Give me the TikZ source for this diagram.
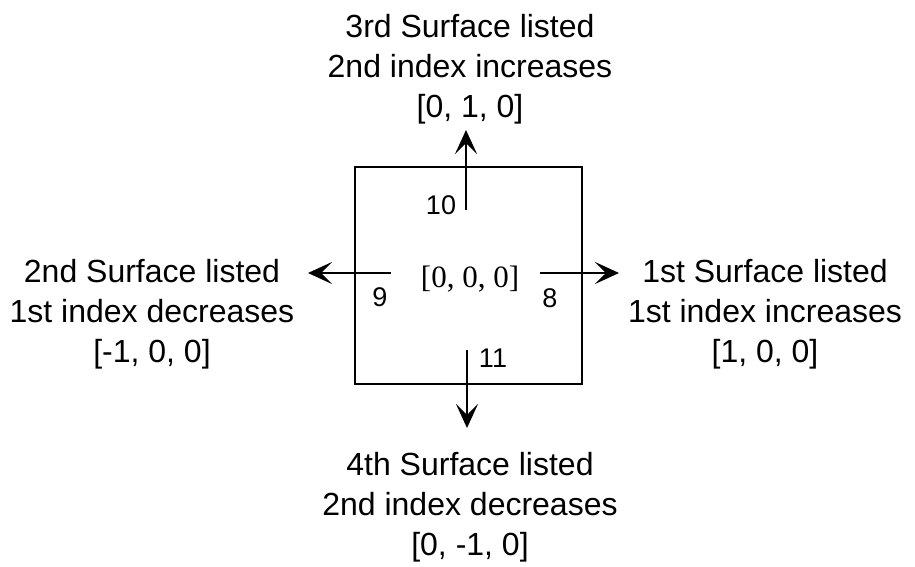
\documentclass[tikz,border=0pt]{standalone}
\usepackage{fontspec}
\setmainfont{Liberation Sans}
\newfontfamily\serifface{Liberation Serif}
\usetikzlibrary{arrows.meta,positioning,calc}
\tikzset{
  cellbox/.style={draw, line width=2.6pt, minimum width=227pt, minimum height=217pt, inner sep=0pt},
  facetext/.style={align=center, inner sep=0pt, font=\fontsize{32}{40}\selectfont},
  idx/.style={inner sep=0pt, font=\fontsize{27}{30}\selectfont},
  centretext/.style={inner sep=0pt, font=\serifface\fontsize{31}{36}\selectfont},
  arrow/.style={-{Stealth[length=24pt,width=22pt,inset=11pt]}, line width=2.6pt},
}
\begin{document}
\begin{tikzpicture}[x=1pt,y=-1pt]
  \useasboundingbox (0,0) rectangle (915,567);
  \node[cellbox] (cell) at (468.5,275.5) {};
  \node[centretext] (home) at (470,279) {[0, 0, 0]};

  % face labels
  \node[facetext] (up) at (470,69) {3rd Surface listed\\2nd index increases\\{[0, 1, 0]}};
  \node[facetext] (west) at (152,314) {2nd Surface listed\\1st index decreases\\{[-1, 0, 0]}};
  \node[facetext] (east) at (765,314) {1st Surface listed\\1st index increases\\{[1, 0, 0]}};
  \node[facetext] (down) at (470,507) {4th Surface listed\\2nd index decreases\\{[0, -1, 0]}};

  % face numbers
  \node[idx] (n10) at (441,205) {10};
  \node[idx] (n9) at (380,297) {9};
  \node[idx] (n8) at (550,298) {8};
  \node[idx] (n11) at (493,358) {11};

  % outward arrows
  \coordinate (upfoot) at (466,210);
  \coordinate (uptip) at (466,130);
  \coordinate (downfoot) at (467,350);
  \coordinate (downtip) at (467,428);
  \coordinate (westfoot) at (391,273);
  \coordinate (westtip) at (308,273);
  \coordinate (eastfoot) at (540,273);
  \coordinate (easttip) at (619,273);
  \draw[arrow] (upfoot) -- (uptip);
  \draw[arrow] (downfoot) -- (downtip);
  \draw[arrow] (westfoot) -- (westtip);
  \draw[arrow] (eastfoot) -- (easttip);
\end{tikzpicture}
\end{document}
